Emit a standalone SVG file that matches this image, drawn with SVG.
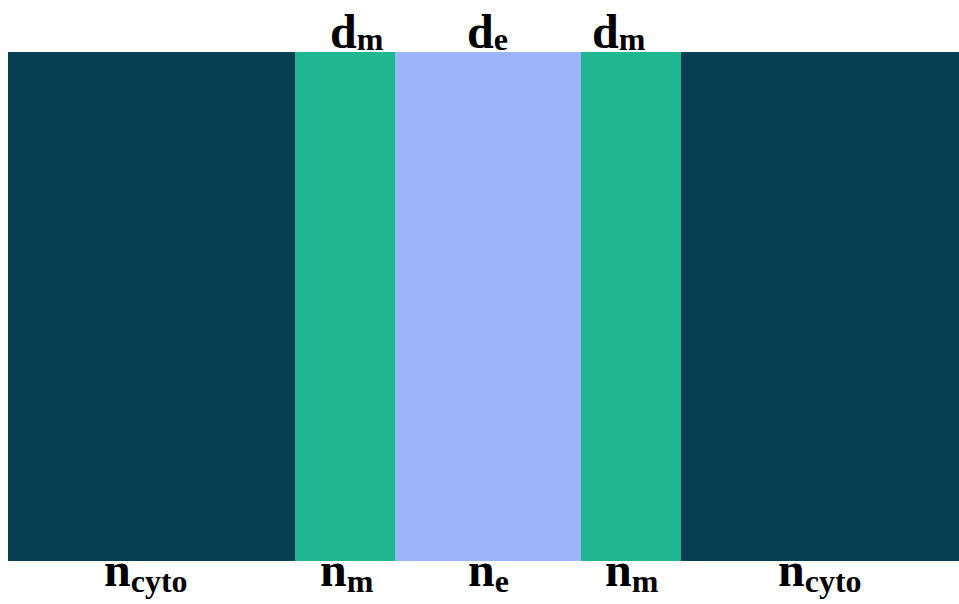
<svg xmlns="http://www.w3.org/2000/svg" width="959" height="604" viewBox="0 0 959 604">
<style>
.lbl{font-family:"Liberation Serif","Times New Roman",serif;font-weight:bold;font-size:48px;fill:#000}
.sub{font-size:32px}
</style>
<rect width="959" height="604" fill="#fff"/>
<g id="layers">
<rect id="cyto-left" x="8" y="52" width="287" height="509" fill="#083f55"/>
<rect id="membrane-left" x="295" y="52" width="100" height="509" fill="#1fb690"/>
<rect id="envelope" x="395" y="52" width="186" height="509" fill="#9bb3f8"/>
<rect id="membrane-right" x="581" y="52" width="100" height="509" fill="#1fb690"/>
<rect id="cyto-right" x="681" y="52" width="278" height="509" fill="#083f55"/>
</g>
<g id="top-labels">
<text class="lbl" x="330" y="48">d<tspan class="sub" dy="2">m</tspan></text>
<text class="lbl" x="467" y="48">d<tspan class="sub" dy="2">e</tspan></text>
<text class="lbl" x="592" y="48">d<tspan class="sub" dy="2">m</tspan></text>
</g>
<g id="bottom-labels">
<text class="lbl" x="104" y="586">n<tspan class="sub" dy="6">cyto</tspan></text>
<text class="lbl" x="320" y="586">n<tspan class="sub" dy="6">m</tspan></text>
<text class="lbl" x="468" y="586">n<tspan class="sub" dy="6">e</tspan></text>
<text class="lbl" x="605" y="586">n<tspan class="sub" dy="6">m</tspan></text>
<text class="lbl" x="778" y="586">n<tspan class="sub" dy="6">cyto</tspan></text>
</g>
</svg>
